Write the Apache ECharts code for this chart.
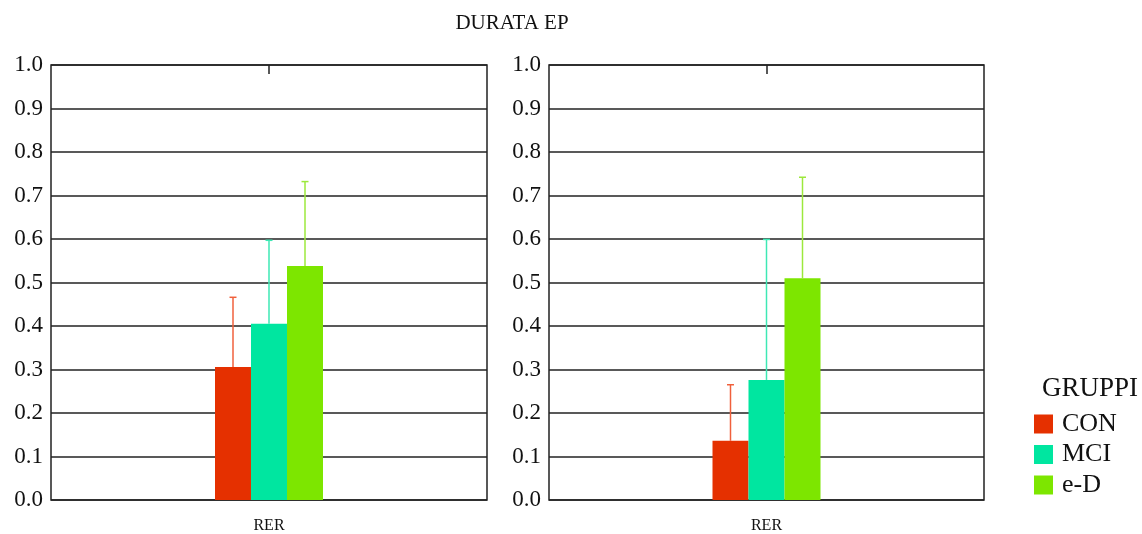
<!DOCTYPE html>
<html>
<head>
<meta charset="utf-8">
<script src="https://cdn.jsdelivr.net/npm/echarts@6/dist/echarts.min.js"></script>
<style>
  html, body { margin: 0; padding: 0; background: #fff; }
  #chart { width: 1142px; height: 534px; }
</style>
</head>
<body>
<div id="chart"></div>
<script>
// Categories and tick labels
var categories = ['RER'];
var yTicks = [0, 0.1, 0.2, 0.3, 0.4, 0.5, 0.6, 0.7, 0.8, 0.9, 1.0];
var groups = ['CON', 'MCI', 'e-D'];

// Left panel: means and standard deviations per group
var leftMeans = [0.306, 0.405, 0.538];
var leftSD = [0.160, 0.192, 0.194];

// Right panel: means and standard deviations per group
var rightMeans = [0.136, 0.276, 0.510];
var rightSD = [0.129, 0.323, 0.232];

var barColors = ['#e53000', '#00e6a0', '#7de600'];
var errColors = ['#f0603c', '#3ee8b4', '#9ce83c'];
var BAR_W = 36;
var FONT = '"Liberation Serif", "Times New Roman", serif';

var chart = echarts.init(document.getElementById('chart'), null, { renderer: 'canvas' });

function makeGrid(left, right) {
  return {
    left: left, right: right, top: 65, bottom: 32,
    show: true, borderColor: '#222', borderWidth: 1.5, backgroundColor: 'transparent'
  };
}

function yAxisFor(gi) {
  return {
    type: 'value', gridIndex: gi, min: yTicks[0], max: yTicks[yTicks.length - 1], interval: 0.1,
    axisLine: { show: false }, axisTick: { show: false },
    splitLine: { show: true, lineStyle: { color: '#222', width: 1.5 } },
    axisLabel: {
      margin: 8, fontFamily: FONT, fontSize: 23, color: '#111',
      formatter: function (v) { return v.toFixed(1); }
    }
  };
}

function xAxesFor(gi) {
  return [
    {
      type: 'category', gridIndex: gi, data: categories, position: 'bottom',
      axisLine: { show: false }, axisTick: { show: false },
      axisLabel: { margin: 18, fontFamily: FONT, fontSize: 16, color: '#111' }
    },
    {
      type: 'category', gridIndex: gi, data: categories, position: 'top',
      axisLine: { show: false },
      axisTick: { show: true, inside: true, length: 9, alignWithLabel: true, lineStyle: { color: '#222', width: 1.5 } },
      axisLabel: { show: false }
    }
  ];
}

function barSeries(gi, means) {
  return groups.map(function (g, i) {
    return {
      name: g, type: 'bar', xAxisIndex: gi * 2, yAxisIndex: gi,
      data: [means[i]], barWidth: BAR_W, barGap: '0%',
      itemStyle: { color: barColors[i] }, z: 2
    };
  });
}

// Error bars: vertical whisker from the mean up to mean + SD, with a short cap
function errSeries(gi, means, sds) {
  return groups.map(function (g, i) {
    return {
      type: 'custom', xAxisIndex: gi * 2, yAxisIndex: gi, z: 3,
      silent: true,
      data: [[0, means[i], means[i] + sds[i]]],
      renderItem: function (params, api) {
        var base = api.coord([api.value(0), api.value(1)]);
        var top = api.coord([api.value(0), api.value(2)]);
        var x = base[0] + (i - 1) * BAR_W;
        var style = { stroke: errColors[i], lineWidth: 1.5 };
        return {
          type: 'group',
          children: [
            { type: 'line', shape: { x1: x, y1: base[1], x2: x, y2: top[1] }, style: style },
            { type: 'line', shape: { x1: x - 3.5, y1: top[1], x2: x + 3.5, y2: top[1] }, style: style }
          ]
        };
      }
    };
  });
}

var option = {
  backgroundColor: '#fff',
  animation: false,
  title: [
    {
      text: 'DURATA EP', left: 507, top: 8, textAlign: 'center',
      textStyle: { fontFamily: FONT, fontSize: 21, fontWeight: 'normal', color: '#111' }
    },
    {
      text: 'GRUPPI', left: 1037, top: 370,
      textStyle: { fontFamily: FONT, fontSize: 27, fontWeight: 'normal', color: '#111' }
    }
  ],
  legend: {
    data: groups, orient: 'vertical', left: 1029, top: 406,
    icon: 'rect', itemWidth: 19, itemHeight: 19, itemGap: 4.5,
    textStyle: { fontFamily: FONT, fontSize: 26, color: '#111', padding: [0, 0, 0, 4] }
  },
  grid: [makeGrid(51, 655), makeGrid(549, 158)],
  xAxis: xAxesFor(0).concat(xAxesFor(1)),
  yAxis: [yAxisFor(0), yAxisFor(1)],
  series: [].concat(
    barSeries(0, leftMeans),
    barSeries(1, rightMeans),
    errSeries(0, leftMeans, leftSD),
    errSeries(1, rightMeans, rightSD)
  )
};

chart.setOption(option);
</script>
</body>
</html>
